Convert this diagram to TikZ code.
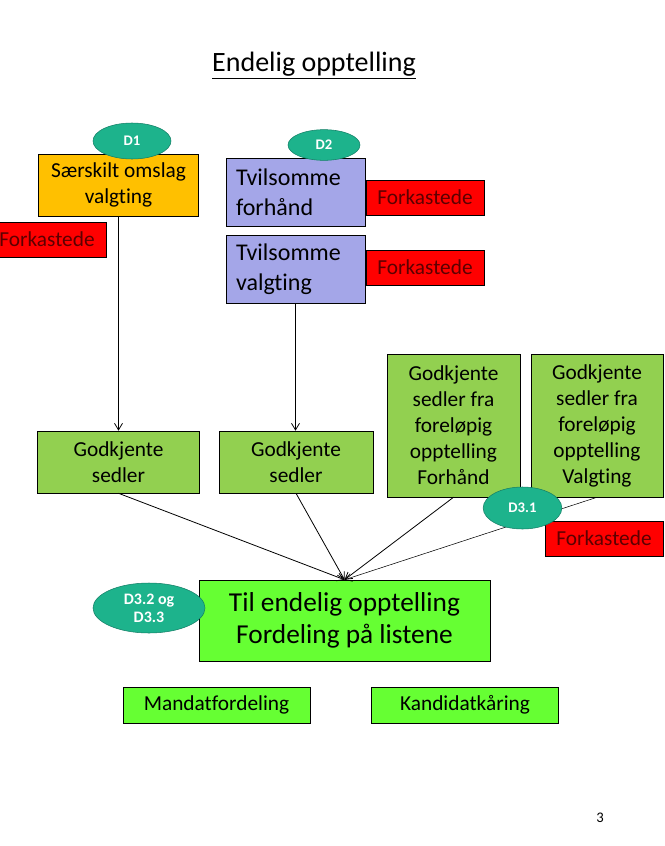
\documentclass[tikz,border=0pt]{standalone}
\usepackage{fontspec}
\setmainfont[Ligatures=NoCommon]{Carlito}
\usepackage{tikz}
\usetikzlibrary{shapes.geometric,arrows.meta}
\definecolor{Orange}{HTML}{FFC000}
\definecolor{Lilac}{HTML}{A4A6E8}
\definecolor{Grass}{HTML}{92D050}
\definecolor{Lime}{HTML}{66FF33}
\definecolor{Alarm}{HTML}{FF0000}
\definecolor{Wine}{HTML}{5C0000}
\definecolor{Teal}{HTML}{1DB38C}
\definecolor{DeepTeal}{HTML}{137F66}

\begin{document}
\begin{tikzpicture}[x=0.75pt,y=-0.75pt,
    box/.style={draw=black,align=center,inner sep=2pt,font=\fontsize{16}{19.5}\selectfont},
    doubt/.style={box,fill=Lilac,align=left,text width=89.25pt,inner xsep=7.5pt,
                  minimum height=51pt,font=\fontsize{18}{22.5}\selectfont},
    reject/.style={box,fill=Alarm,text=Wine,minimum width=88.5pt,minimum height=26.25pt},
    okbox/.style={box,fill=Grass},
    result/.style={box,fill=Lime,minimum width=140.25pt,minimum height=27pt},
    tag/.style={ellipse,draw=DeepTeal,fill=Teal,text=white,inner sep=0pt,align=center,
                font=\bfseries\fontsize{11}{13}\selectfont},
    arr/.style={-{Straight Barb[length=5pt,width=6pt]},line width=0.6pt}
  ]
    \useasboundingbox (0,0) rectangle (664,846);
    \node[font=\fontsize{21}{25}\selectfont] (title) at (314,66) {\underline{Endelig opptelling}};

    % venstre kolonne
    \node[box,fill=Orange,minimum width=120pt,minimum height=46.5pt] (sarskilt) at (118.5,185) {Særskilt omslag\\valgting};
    \node[reject] (forkA) at (47,239.5) {Forkastede};
    \node[okbox,minimum width=121.5pt,minimum height=46.5pt] (sedlerA) at (118.5,462) {Godkjente\\sedler};

    % tvilsomme
    \node[doubt] (tforh) at (295.5,192) {Tvilsomme\\forhånd};
    \node[doubt] (tvalg) at (295.5,269) {Tvilsomme\\valgting};
    \node[reject] (forkB) at (425,197.5) {Forkastede};
    \node[reject] (forkC) at (425,267.5) {Forkastede};
    \node[okbox,minimum width=115.5pt,minimum height=46.5pt] (sedlerB) at (296,462) {Godkjente\\sedler};

    % forelopig opptelling
    \node[okbox,minimum width=99.75pt,minimum height=107.25pt] (forelF) at (453.5,425.5) {Godkjente\\sedler fra\\foreløpig\\opptelling\\Forhånd};
    \node[okbox,minimum width=99pt,minimum height=107.25pt] (forelV) at (597,425.5) {Godkjente\\sedler fra\\foreløpig\\opptelling\\Valgting};
    \node[reject] (forkD) at (604,538.5) {Forkastede};

    \node[box,fill=Lime,minimum width=218.25pt,minimum height=60.75pt,
          font=\fontsize{20.5}{24.5}\selectfont] (endelig) at (344.5,620.5) {Til endelig opptelling\\Fordeling på listene};
    \node[result] (mandat) at (216.5,705) {Mandatfordeling};
    \node[result] (kandidat) at (465,705) {Kandidatkåring};

    \draw[arr] (sarskilt.south) -- (sarskilt.south |- sedlerA.north);
    \draw[arr] (tvalg.south) -- (tvalg.south |- sedlerB.north);
    \foreach \x in {sedlerA,sedlerB,forelF} \draw[arr] (\x.south) -- (endelig.north);
    \draw[arr,line width=0.4pt] (forelV.south) -- (endelig.north);

    % merkelapper
    \node[tag,minimum width=58.5pt,minimum height=27pt] (d1) at (132,141) {D1};
    \node[tag,minimum width=54pt,minimum height=23pt] (d2) at (324,145) {D2};
    \node[tag,minimum width=59pt,minimum height=31.5pt] (d31) at (522.5,508) {D3.1};
    \node[tag,minimum width=84pt,minimum height=37.5pt,font=\bfseries\fontsize{12}{13.5}\selectfont] (d32) at (149,608) {D3.2 og\\D3.3};

    \node[font=\fontsize{11}{13}\selectfont] (side) at (600,818) {3};
  \end{tikzpicture}
\end{document}
